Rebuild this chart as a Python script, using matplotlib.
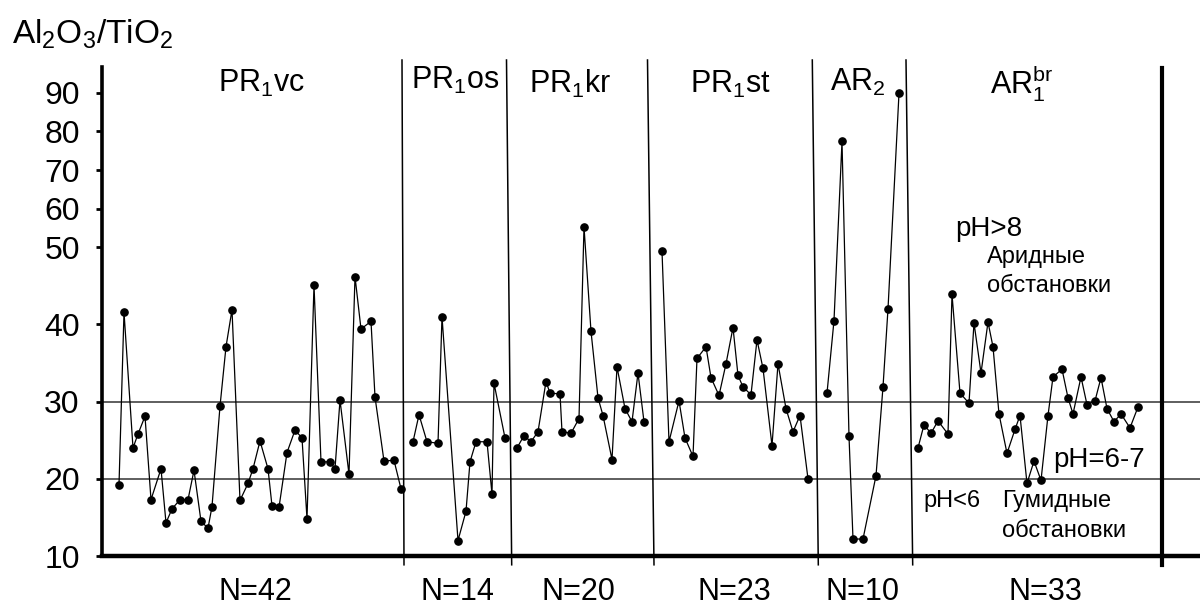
import numpy as np
import matplotlib
matplotlib.use('Agg')
import matplotlib.pyplot as plt

plt.rcParams['font.family'] = ['Liberation Sans', 'DejaVu Sans']
plt.rcParams['mathtext.fontset'] = 'custom'
plt.rcParams['mathtext.rm'] = 'Liberation Sans'
plt.rcParams['mathtext.it'] = 'Liberation Sans'
plt.rcParams['mathtext.default'] = 'regular'

# data: position along section and Al2O3/TiO2 per suite
vc_x = [17, 22, 31, 36, 43, 49, 59, 64, 70, 78, 86, 92, 99, 106, 110, 118, 124, 130, 138, 146, 151,
        158, 166, 170, 177, 185, 193, 200, 205, 212, 219, 228, 233, 238, 247, 253, 259, 269, 273, 282, 292, 299]
vc_y = [19.2, 41.6, 24.0, 25.8, 28.1, 17.3, 21.3, 14.3, 16.1, 17.3, 17.3, 21.1, 14.5, 13.6, 16.4, 29.4, 37.1,
        41.9, 17.2, 19.4, 21.3, 24.9, 21.3, 16.5, 16.3, 23.4, 26.3, 25.3, 14.8, 45.1, 22.2, 22.2, 21.3, 30.2,
        20.6, 46.2, 39.4, 40.4, 30.6, 22.3, 22.4, 18.7]
os_x = [311, 317, 325, 336, 340, 356, 364, 368, 374, 385, 390, 392, 403]
os_y = [24.8, 28.3, 24.8, 24.6, 41.0, 12.0, 15.8, 22.2, 24.8, 24.8, 18.0, 32.4, 25.3]
kr_x = [415, 422, 429, 436, 444, 448, 458, 460, 469, 477, 482, 489, 496, 501, 510, 515, 523, 530, 536, 542]
kr_y = [24.0, 25.6, 24.8, 26.1, 32.6, 31.1, 31.0, 26.1, 25.9, 27.8, 55.3, 39.1, 30.5, 28.2, 22.5, 34.5,
        29.1, 27.4, 33.7, 27.4]
st_x = [560, 567, 577, 583, 591, 595, 604, 609, 617, 624, 631, 636, 641, 649, 655, 661, 670, 676, 684, 691, 698, 706]
st_y = [49.5, 24.8, 30.1, 25.3, 22.9, 35.6, 37.1, 33.1, 30.8, 34.9, 39.6, 33.4, 31.9, 30.9, 38.0, 34.3,
        24.3, 34.9, 29.1, 26.1, 28.2, 20.0]
ar2_x = [725, 732, 740, 747, 751, 761, 774, 781, 786, 797]
ar2_y = [31.1, 40.5, 77.4, 25.5, 12.2, 12.2, 20.4, 31.9, 42.0, 89.9]
br_x = [816, 822, 829, 836, 846, 850, 858, 867, 872, 879, 886, 891, 897, 905, 913, 918, 925, 932, 939,
        946, 951, 960, 966, 971, 979, 985, 993, 999, 1005, 1012, 1019, 1028, 1036]
br_y = [24.0, 27.0, 25.9, 27.5, 25.8, 43.9, 31.1, 29.8, 40.2, 33.7, 40.3, 37.1, 28.4, 23.3, 26.4, 28.2,
        19.4, 22.3, 19.8, 28.2, 33.2, 34.2, 30.5, 28.4, 33.2, 29.6, 30.1, 33.1, 29.1, 27.4, 28.4, 26.6, 29.3]

suite_names = [r'PR$_1$vc', r'PR$_1$os', r'PR$_1$kr', r'PR$_1$st', r'AR$_2$', r'AR$_1^{br}$']
suite_n = ['N=42', 'N=14', 'N=20', 'N=23', 'N=10', 'N=33']
# boundaries between suites (top, bottom) along section
bound_top = [300, 404.5, 545.5, 710.3, 804]
bound_bot = [302, 409.7, 552, 716.3, 810.7]
right_edge = 1060
y_ticks = [10, 20, 30, 40, 50, 60, 70, 80, 90]
ref_levels = [20, 30]


def fwd(v):
    v = np.asarray(v, dtype=float)
    return np.where(v <= 50, v, 50 + (v - 50) * 0.5)


def inv(v):
    v = np.asarray(v, dtype=float)
    return np.where(v <= 50, v, 50 + (v - 50) * 2.0)


W, H = 1200, 608
fig = plt.figure(figsize=(W / 100, H / 100), dpi=100)
ax = fig.add_axes([102 / W, 1 - 556 / H, 1098 / W, 489 / H])
ax.set_yscale('function', functions=(fwd, inv))
ax.set_xlim(0, 1098)
ax.set_ylim(10, 96.7)

for lv in ref_levels:
    ax.axhline(lv, color='#333333', lw=1.1, zorder=1)

for xs, ys in [(vc_x, vc_y), (os_x, os_y), (kr_x, kr_y), (st_x, st_y), (ar2_x, ar2_y), (br_x, br_y)]:
    ax.plot(xs, ys, '-o', color='black', lw=0.9, markersize=5.2, zorder=3)

# suite boundaries, running a little past the axes
for xt, xb in zip(bound_top, bound_bot):
    ax.plot([xt / 1098, xb / 1098], [1.0143, -0.018], color='black', lw=1.1,
            transform=ax.transAxes, clip_on=False)
ax.plot([right_edge / 1098] * 2, [0.998, -0.018], color='black', lw=3,
        transform=ax.transAxes, clip_on=False)

for side in ['top', 'right']:
    ax.spines[side].set_visible(False)
ax.spines['left'].set_linewidth(2.6)
ax.spines['bottom'].set_linewidth(3.2)

ax.set_xticks([])
ax.set_yticks(y_ticks)
ax.set_yticklabels([str(t) for t in y_ticks])
ax.yaxis.set_minor_locator(matplotlib.ticker.NullLocator())
ax.tick_params(axis='y', direction='out', length=4, width=2, labelsize=23, pad=12)


def ftext(x, y, s, **kw):
    fig.text(x / W, 1 - y / H, s, **kw)


ftext(12, 44, r'Al$_2$O$_3$/TiO$_2$', fontsize=24, va='baseline')

name_cx = [262, 455, 570, 730, 858, 1022]
name_base = [92, 89, 93, 93, 91, 93]
for cx, by, s in zip(name_cx, name_base, suite_names):
    ftext(cx, by, s, fontsize=22, ha='center', va='baseline')

n_cx = [255, 457, 578, 734, 862, 1045]
for cx, s in zip(n_cx, suite_n):
    ftext(cx, 600, s, fontsize=22, ha='center', va='baseline')

ftext(955, 236, 'pH>8', fontsize=20, va='baseline')
ftext(987, 263, 'Аридные', fontsize=17, va='baseline')
ftext(987, 292, 'обстановки', fontsize=17, va='baseline')
ftext(1053, 467, 'pH=6-7', fontsize=20, va='baseline')
ftext(923, 507, 'pH<6', fontsize=17, va='baseline')
ftext(1002, 507, 'Гумидные', fontsize=17, va='baseline')
ftext(1002, 537, 'обстановки', fontsize=17, va='baseline')

fig.savefig('out.png', dpi=100)
